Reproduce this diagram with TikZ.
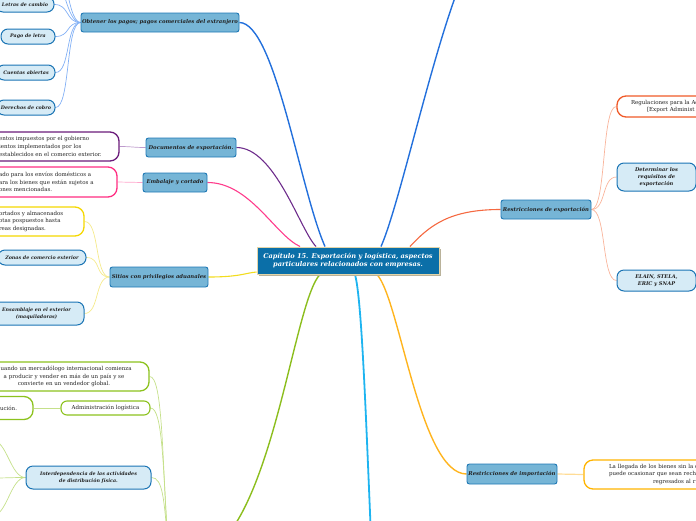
\documentclass[tikz,border=0pt]{standalone}
\usepackage{fontspec}
\setmainfont{DejaVu Serif}
\usetikzlibrary{shadows,backgrounds}
\definecolor{centralF}{HTML}{0B6FA8}
\definecolor{centralB}{HTML}{E3D5A8}
\definecolor{shadowC}{HTML}{B9B29A}
\definecolor{topicF}{HTML}{76B5D6}
\definecolor{topicB}{HTML}{1E78B4}
\definecolor{subF}{HTML}{D6EBF6}
\definecolor{subB}{HTML}{1A74B4}
\definecolor{txt}{HTML}{222222}
\definecolor{blueM}{HTML}{2370DC}
\definecolor{purpleM}{HTML}{6E2D8C}
\definecolor{pinkM}{HTML}{FF3C8C}
\definecolor{yellowM}{HTML}{F2DC1E}
\definecolor{greenM}{HTML}{8CBE1E}
\definecolor{cyanM}{HTML}{1EB4F0}
\definecolor{orangeM}{HTML}{FFB41E}
\definecolor{redM}{HTML}{F56941}
\definecolor{blueL}{HTML}{82B0F5}
\definecolor{purpleL}{HTML}{BE9BCD}
\definecolor{pinkL}{HTML}{FFA5CB}
\definecolor{yellowL}{HTML}{F5EA8C}
\definecolor{greenL}{HTML}{C5E08A}
\definecolor{orangeL}{HTML}{FFDC96}
\definecolor{redL}{HTML}{F9B49B}
\definecolor{purpleN}{HTML}{6A1B7A}
\definecolor{pinkN}{HTML}{FF2D82}
\definecolor{yellowN}{HTML}{F5D800}
\definecolor{greenN}{HTML}{8CC21E}
\definecolor{redN}{HTML}{F05A28}
\definecolor{orangeN}{HTML}{FFB400}
\tikzset{
  central/.style={fill=centralF, draw=centralB, line width=1pt, inner sep=0pt,
    minimum width=182, minimum height=27, align=center, text=white,
    font=\fontsize{6.6}{8}\selectfont\bfseries\itshape,
    drop shadow={shadow xshift=2pt, shadow yshift=-2pt, fill=shadowC, opacity=1}},
  topic/.style={fill=topicF, draw=topicB, line width=0.9pt, rounded corners=2.5pt,
    inner sep=0pt, align=center, text=txt,
    font=\fontsize{5.3}{7}\selectfont\bfseries\itshape},
  subnode/.style={fill=subF, draw=subB, line width=1pt, rounded corners=7pt,
    inner sep=0pt, align=center, text=txt,
    font=\fontsize{4.8}{7.4}\selectfont\bfseries\itshape},
  note/.style={fill=white, line width=1.3pt, rounded corners=9pt, inner ysep=0pt,
    text=txt, font=\fontsize{5.5}{7.8}\selectfont},
  mainline/.style={line width=1.4pt},
  childline/.style={line width=0.7pt},
}
\begin{document}
\begin{tikzpicture}[x=1pt,y=-1pt]
\useasboundingbox (0,0) rectangle (696,520);

% central
\node[central] (c) at (348,260.5) {Capítulo 15. Exportación y logística, aspectos\\particulares relacionados con empresas.};

% topics
\node[topic, minimum width=158, minimum height=19] (obt) at (160,22.5) {Obtener los pagos; pagos comerciales del extranjero};
\node[topic, minimum width=90, minimum height=19] (doc) at (191,147.5) {Documentos de exportación.};
\node[topic, minimum width=64, minimum height=19] (emb) at (175,182.5) {Embalaje y cortado};
\node[topic, minimum width=98, minimum height=20] (sit) at (159,277) {Sitios con privilegios aduanales};
\node[topic, minimum width=90, minimum height=19] (rexp) at (546,209.5) {Restricciones de exportación};
\node[topic, minimum width=90, minimum height=20] (rimp) at (512,474) {Restricciones de importación};

% sub nodes
\node[subnode, minimum width=58, minimum height=15] (letras) at (25,4.5) {Letras de cambio};
\node[subnode, minimum width=54, minimum height=15] (pago) at (28,36.5) {Pago de letra};
\node[subnode, minimum width=58, minimum height=15] (cuentas) at (26,72.5) {Cuentas abiertas};
\node[subnode, minimum width=58, minimum height=15] (derechos) at (26,107.5) {Derechos de cobro};
\node[subnode, minimum width=88, minimum height=15] (zonas) at (42,257.5) {Zonas de comercio exterior};
\node[subnode, minimum width=95, minimum height=23] (ensam) at (36.5,313.5) {Ensamblaje en el exterior\\(maquiladoras)};
\node[subnode, minimum width=125, minimum height=23] (interd) at (88.5,477.5) {Interdependencia de las actividades\\de distribución física.};
\node[subnode, minimum width=79, minimum height=28, font=\fontsize{5.1}{7}\selectfont\bfseries\itshape] (determ) at (656.5,177) {Determinar los\\requisitos de\\exportación};
\node[subnode, minimum width=79, minimum height=21, font=\fontsize{5.1}{7.2}\selectfont\bfseries\itshape] (elain) at (656.5,280.5) {ELAIN, STELA,\\ERIC y SNAP};

% notes
\node[note, draw=purpleN, inner xsep=8pt, text width=112pt, minimum height=29, align=left] (pnote) at (55,146.5) {entos impuestos por el gobierno\\ientos implementados por los\\establecidos en el comercio exterior.};
\node[note, draw=pinkN, inner xsep=8pt, text width=110pt, minimum height=30, align=left] (knote) at (54,182) {ado para los envíos domésticos a\\ara los bienes que están sujetos a\\ones mencionadas.};
\node[note, draw=yellowN, inner xsep=8pt, text width=77pt, minimum height=29, align=left] (ynote) at (37.5,221.5) {ortados y almacenados\\otas pospuestos hasta\\reas designadas.};
\node[note, draw=greenN, inner xsep=8pt, text width=154pt, minimum height=29, align=center] (gnote) at (64,376.5) {Cuando un mercadólogo internacional comienza\\a producir y vender en más de un país y se\\convierte en un vendedor global.};
\node[note, draw=greenN, line width=1.1pt, rounded corners=6pt, inner xsep=0pt, minimum width=89, minimum height=14, align=center] (admin) at (105.5,408) {Administración logística};
\node[note, draw=greenN, inner xsep=16pt, text width=17pt, minimum height=23, align=right] (ucion) at (8.5,408) {ución.};
\node[note, draw=redN, inner xsep=14pt, text width=115pt, minimum height=21, align=left] (regul) at (688.5,106.5) {Regulaciones para la Adm\\\hspace*{16pt}[Export Administ};
\node[note, draw=orangeN, inner xsep=25pt, text width=120pt, minimum height=29, align=left] (lleg) at (669,474.5) {La llegada de los bienes sin la d\\puede ocasionar que sean rech\\\hspace*{44pt}regresados al r};

% off-picture ends
\coordinate (topoff) at (490,-60);
\coordinate (greenoff) at (215,548);
\coordinate (cyanoff) at (372,560);
\coordinate (gpar) at (168,545);
\coordinate (offA) at (50,-25);
\coordinate (offB) at (50,-60);
\coordinate (offL1) at (-8,440);
\coordinate (offL2) at (-8,478);
\coordinate (offL3) at (-8,516);

\begin{scope}[on background layer]
% main branches
\draw[mainline, blueM] ([xshift=-23pt]c.north) .. controls (300,190) and (275,23) .. (obt.east);
\draw[mainline, blueM] ([xshift=33pt]c.north) .. controls (406,190) and (455,-60) .. (topoff);
\draw[mainline, purpleM, line width=1.1pt] ([xshift=-32pt]c.north) .. controls (300,230) and (275,147.5) .. (doc.east);
\draw[mainline, pinkM, line width=1.1pt] ([xshift=-48pt]c.north) .. controls (275,235) and (250,182.5) .. (emb.east);
\draw[mainline, redM, line width=1.1pt] ([xshift=62pt]c.north) .. controls (430,225) and (450,209.5) .. (rexp.west);
\draw[mainline, yellowM, line width=1.1pt] ([yshift=-11.5pt]c.west) .. controls (245,273) and (240,277) .. (sit.east);
\draw[mainline, greenM] ([xshift=-28pt]c.south) .. controls (295,300) and (275,500) .. (greenoff);
\draw[mainline, cyanM, line width=1.8pt] ([xshift=7pt]c.south) .. controls (362,300) and (366,420) .. (cyanoff);
\draw[mainline, orangeM] ([xshift=29pt]c.south) .. controls (400,300) and (420,474) .. (rimp.west);

% children
\foreach \t in {letras,pago,cuentas,derechos}
  \draw[childline, blueL] (obt.west) .. controls +(-15,0) and +(15,0) .. (\t.east);
\foreach \t in {offA,offB}
  \draw[childline, blueL] (obt.west) .. controls +(-15,0) and +(15,0) .. (\t);
\draw[childline, purpleL] (doc.west) .. controls +(-12,0) and +(12,0) .. (pnote.east);
\draw[childline, pinkL] (emb.west) .. controls +(-12,0) and +(12,0) .. (knote.east);
\foreach \t in {ynote,zonas,ensam}
  \draw[childline, yellowL] (sit.west) .. controls +(-15,0) and +(15,0) .. (\t.east);
\foreach \t in {regul,determ,elain}
  \draw[childline, redL] (rexp.east) .. controls +(15,0) and +(-15,0) .. (\t.west);
\draw[childline, orangeL, line width=1.2pt] (rimp.east) -- (lleg.west);
\draw[childline, greenL] (gnote.east) .. controls (163,376.5) and (162,460) .. (gpar);
\draw[childline, greenL] (admin.east) .. controls (163,408) and (163,470) .. (gpar);
\draw[childline, greenL] (interd.east) .. controls (163,477.5) and (164,500) .. (gpar);
\draw[childline, greenL, line width=1pt] (admin.west) -- (ucion.east);
\foreach \t in {offL1,offL2,offL3}
  \draw[childline, greenL] (interd.west) .. controls +(-15,0) and +(15,0) .. (\t);
\end{scope}
\end{tikzpicture}
\end{document}
